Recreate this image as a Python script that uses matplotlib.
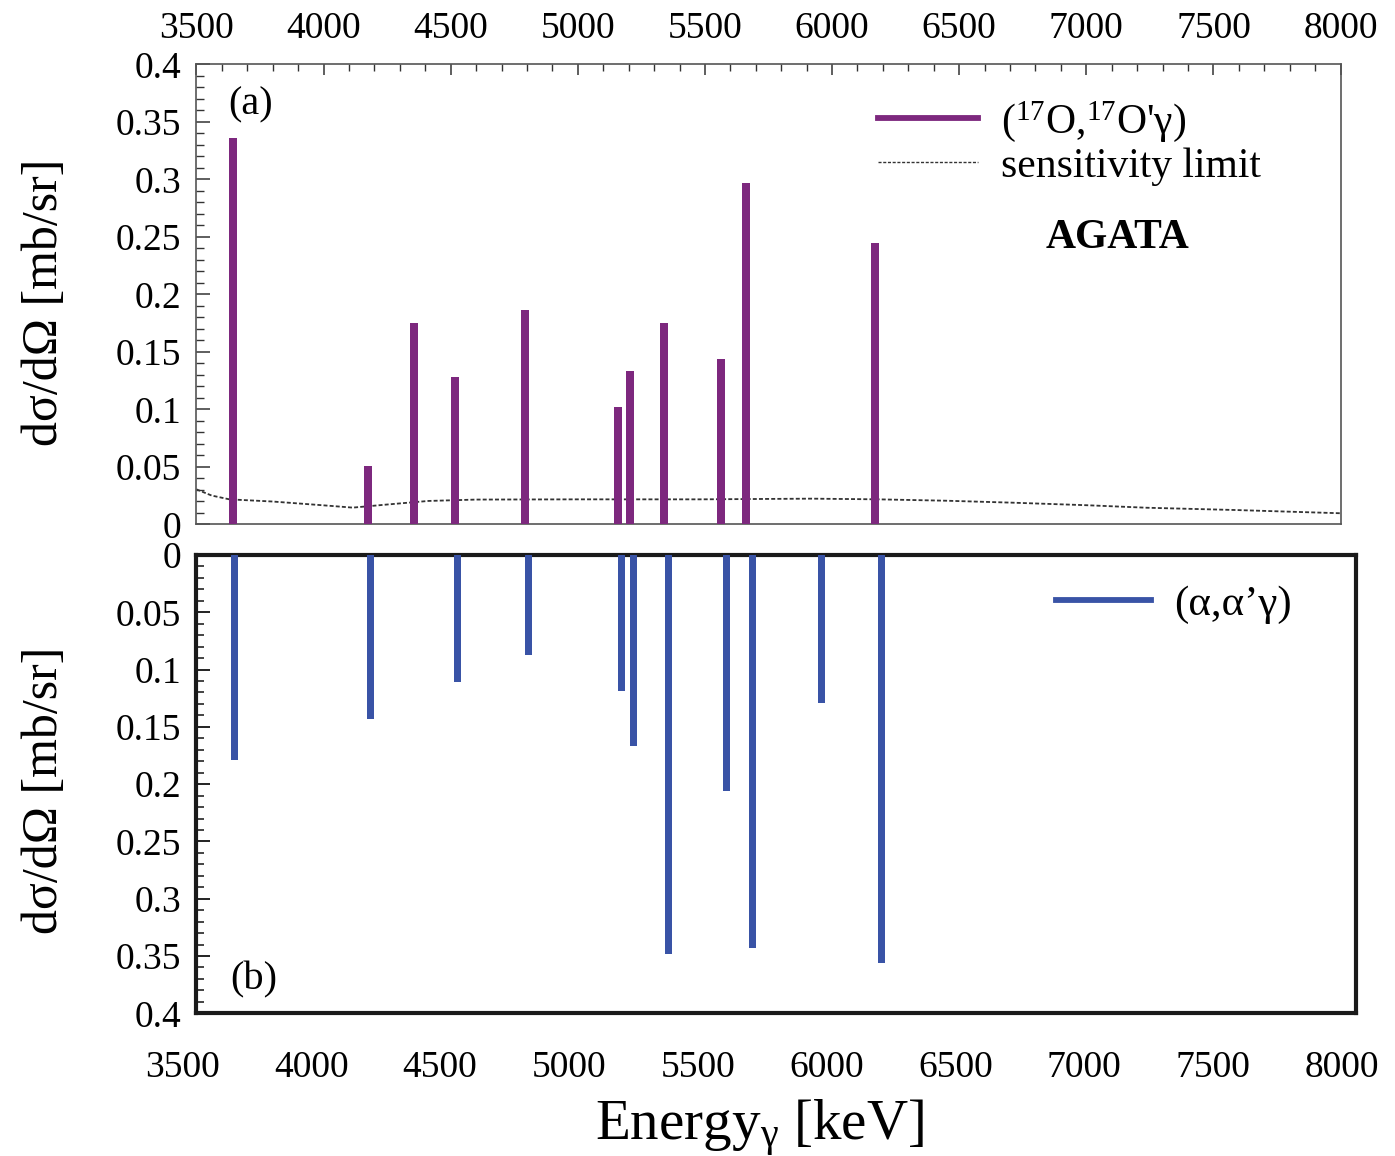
import matplotlib
matplotlib.use("Agg")
import matplotlib.pyplot as plt
import matplotlib.transforms as mtrans
from matplotlib.ticker import FixedLocator, MultipleLocator, FixedFormatter
from matplotlib.lines import Line2D

plt.rcParams['font.family'] = ['Liberation Serif', 'DejaVu Serif']
plt.rcParams['mathtext.fontset'] = 'custom'
plt.rcParams['mathtext.rm'] = 'Liberation Serif'
plt.rcParams['mathtext.it'] = 'Liberation Serif:italic'

# ---------------- data ----------------
energy_o17 = [3644, 4176, 4355, 4516, 4791, 5159, 5205, 5338, 5564, 5663, 6170]
xsec_o17 = [0.336, 0.051, 0.175, 0.128, 0.186, 0.102, 0.133, 0.175, 0.144, 0.297, 0.245]

energy_alpha = [3646, 4176, 4514, 4787, 5149, 5196, 5333, 5558, 5659, 5924, 6158]
xsec_alpha = [0.179, 0.143, 0.111, 0.087, 0.119, 0.167, 0.348, 0.206, 0.343, 0.129, 0.356]

sens_energy = [3500, 3560, 3630, 3800, 4000, 4115, 4250, 4412, 4600, 5000, 5480,
               5920, 6183, 6450, 6710, 7000, 7238, 7590, 8000]
sens_value = [0.0304, 0.025, 0.0217, 0.0198, 0.0165, 0.0145, 0.0172, 0.0203, 0.0215,
              0.0217, 0.0217, 0.0223, 0.0217, 0.0205, 0.0188, 0.0166, 0.0144, 0.0124, 0.0096]

x_ticks = [3500, 4000, 4500, 5000, 5500, 6000, 6500, 7000, 7500, 8000]
x_tick_labels = ['3500', '4000', '4500', '5000', '5500', '6000', '6500', '7000', '7500', '8000']
y_ticks = [0, 0.05, 0.1, 0.15, 0.2, 0.25, 0.3, 0.35, 0.4]
y_tick_labels = ['0', '0.05', '0.1', '0.15', '0.2', '0.25', '0.3', '0.35', '0.4']

purple = '#7D287E'
blue = '#3953A6'

W, H = 1395, 1156
fig = plt.figure(figsize=(W / 100, H / 100), dpi=100)

def box(l, t, r, b):
    return [l / W, 1 - b / H, (r - l) / W, (b - t) / H]

def ftext(x, y, s, **kw):
    return fig.text(x / W, 1 - y / H, s, **kw)

TICK_FS = 27

# ---------------- top panel ----------------
ax1 = fig.add_axes(box(196.4, 64.3, 1340.6, 524.3))
ax1.bar(energy_o17, xsec_o17, width=32, color=purple, zorder=3)
ax1.plot(sens_energy, sens_value, color='#333333', lw=1.3, ls=(0, (2.2, 1.2)), zorder=2)
ax1.set_xlim(3500, 8000)
ax1.set_ylim(0, 0.4)
ax1.xaxis.set_major_locator(FixedLocator(x_ticks))
ax1.xaxis.set_major_formatter(FixedFormatter(x_tick_labels))
ax1.xaxis.set_minor_locator(MultipleLocator(100))
ax1.yaxis.set_major_locator(FixedLocator(y_ticks))
ax1.yaxis.set_major_formatter(FixedFormatter(y_tick_labels))
ax1.yaxis.set_minor_locator(MultipleLocator(0.01))
ax1.tick_params(axis='x', which='both', direction='in', top=True, bottom=False,
                labeltop=True, labelbottom=False, labelsize=TICK_FS, pad=13, color='#333333')
ax1.tick_params(axis='x', which='major', length=8, width=1.1)
ax1.tick_params(axis='x', which='minor', length=5, width=1.0)
ax1.tick_params(axis='y', which='both', direction='in', left=True, right=False,
                labelsize=TICK_FS, pad=11, color='#333333')
ax1.tick_params(axis='y', which='major', length=10, width=1.1)
ax1.tick_params(axis='y', which='minor', length=6, width=1.0)
for s in ax1.spines.values():
    s.set_linewidth(1.2)
    s.set_color('#555555')

h1 = [Line2D([], [], color=purple, lw=4.2),
      Line2D([], [], color='#333333', lw=1.0, ls=(0, (2.2, 1.2)))]
ax1.legend(h1, ["($^{17}$O,$^{17}$O'γ)", 'sensitivity limit'],
           loc='upper left', bbox_to_anchor=((878 - 196.4) / 1144.2, (524.3 - 99) / 460),
           frameon=False, fontsize=30, handlelength=2.4, handletextpad=0.55,
           labelspacing=0.08, borderpad=0, borderaxespad=0)

# ---------------- bottom panel ----------------
ax2 = fig.add_axes(box(196.4, 555, 1356, 1013.3))
ax2.bar(energy_alpha, xsec_alpha, width=27, color=blue, zorder=3)
ax2.set_xlim(3500, 8000)
ax2.set_ylim(0.4, 0)
ax2.xaxis.set_major_locator(FixedLocator(x_ticks))
ax2.xaxis.set_major_formatter(FixedFormatter(x_tick_labels))
ax2.yaxis.set_major_locator(FixedLocator(y_ticks))
ax2.yaxis.set_major_formatter(FixedFormatter(y_tick_labels))
ax2.yaxis.set_minor_locator(MultipleLocator(0.01))
ax2.tick_params(axis='x', which='both', length=0, labelsize=TICK_FS, pad=27)
ax2.tick_params(axis='y', which='both', direction='in', left=True, right=False,
                labelsize=TICK_FS, pad=11, color='#111111')
ax2.tick_params(axis='y', which='major', length=10, width=1.3)
ax2.tick_params(axis='y', which='minor', length=6, width=1.1)
for s in ax2.spines.values():
    s.set_linewidth(3.0)
    s.set_color('#1a1a1a')

h2 = [Line2D([], [], color=blue, lw=4.2)]
ax2.legend(h2, ['(α,α’γ)'], loc='upper left',
           bbox_to_anchor=((1056 - 196.4) / 1159.6, (1013.3 - 585) / 458.3),
           frameon=False, fontsize=31, handlelength=2.2, handletextpad=0.55,
           borderpad=0, borderaxespad=0)

offset = mtrans.ScaledTranslation(-14 / 100, 0, fig.dpi_scale_trans)
for lab in ax2.get_xticklabels():
    lab.set_transform(lab.get_transform() + offset)

# ---------------- annotations and axis labels ----------------
ftext(228, 105, '(a)', fontsize=29, ha='left', va='center')
ftext(230, 980, '(b)', fontsize=29, ha='left', va='center')
ftext(1117, 238, 'AGATA', fontsize=30, fontweight='bold', ha='center', va='center')

ftext(45, 302, 'dσ/dΩ [mb/sr]', rotation=90, fontsize=36, ha='center', va='center')
ftext(45, 790, 'dσ/dΩ [mb/sr]', rotation=90, fontsize=36, ha='center', va='center')
ftext(759, 1128, 'Energy$_{\\mathrm{γ}}$ [keV]', fontsize=41, ha='center', va='center')

fig.savefig('out.png', dpi=100, facecolor='white')
